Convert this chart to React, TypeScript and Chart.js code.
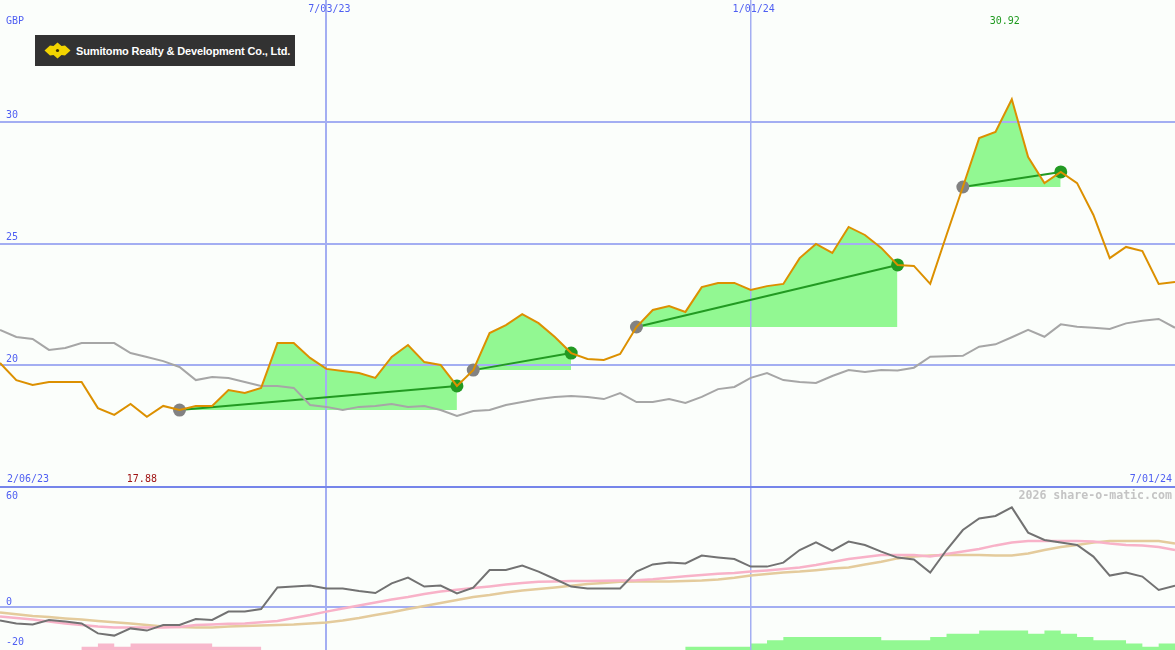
import React, { useEffect, useRef } from 'react';
import { Chart, registerables } from 'chart.js';

Chart.register(...registerables);

// ---------- data (weekly, index 0 = first week shown) ----------
const price = [
  20.09, 19.39, 19.19, 19.31, 19.31, 19.31, 18.24, 17.96, 18.41, 17.88,
  18.33, 18.16, 18.33, 18.33, 18.98, 18.86, 19.07, 20.91, 20.91, 20.30,
  19.85, 19.76, 19.68, 19.48, 20.34, 20.83, 20.13, 20.01, 19.15, 19.80,
  21.32, 21.65, 22.10, 21.73, 21.16, 20.50, 20.26, 20.22, 20.46, 21.57,
  22.27, 22.43, 22.19, 23.21, 23.38, 23.38, 23.09, 23.25, 23.34, 24.40,
  24.98, 24.61, 25.68, 25.35, 24.82, 24.12, 24.08, 23.34, 25.35, 27.32,
  29.33, 29.58, 30.92, 28.55, 27.48, 27.94, 27.48, 26.17, 24.40, 24.86,
  24.69, 23.34, 23.42,
];

const indexLine = [
  21.45, 21.16, 21.08, 20.63, 20.71, 20.91, 20.91, 20.91, 20.50, 20.34,
  20.17, 19.93, 19.39, 19.52, 19.48, 19.31, 19.15, 19.15, 19.07, 18.37,
  18.29, 18.16, 18.29, 18.33, 18.41, 18.29, 18.33, 18.16, 17.92, 18.12,
  18.16, 18.37, 18.49, 18.61, 18.70, 18.74, 18.70, 18.61, 18.86, 18.49,
  18.49, 18.61, 18.45, 18.70, 19.02, 19.11, 19.48, 19.68, 19.39, 19.31,
  19.27, 19.56, 19.80, 19.72, 19.80, 19.78, 19.90, 20.35, 20.37, 20.39,
  20.76, 20.86, 21.15, 21.45, 21.17, 21.68, 21.58, 21.54, 21.49, 21.72,
  21.83, 21.90, 21.54,
];

const oscillator = [
  -6.8, -8.2, -8.7, -6.5, -7.3, -8.2, -13.2, -14.3, -10.7, -11.8,
  -9.0, -9.0, -6.0, -6.5, -2.3, -2.3, -1.0, 9.8, 10.2, 10.7,
  9.3, 9.3, 8.0, 7.0, 11.8, 14.7, 10.2, 10.7, 6.8, 9.7,
  18.5, 18.5, 20.7, 17.7, 14.0, 10.2, 9.3, 9.3, 9.3, 17.7,
  21.3, 22.2, 21.8, 25.7, 24.8, 24.0, 20.2, 20.2, 22.2, 28.5,
  32.3, 28.2, 32.7, 31.0, 27.7, 24.7, 23.8, 17.2, 28.5, 38.5,
  44.3, 45.5, 49.8, 37.2, 33.5, 32.3, 31.0, 25.2, 15.7, 17.2,
  15.2, 8.5, 10.7,
];

const oscAvgFast = [
  -4.8, -5.5, -6.3, -7.3, -8.2, -9.0, -9.8, -10.3, -10.3, -10.3,
  -10.2, -10.0, -9.0, -8.7, -8.4, -8.2, -7.6, -7.0, -5.5, -4.0,
  -2.3, -0.7, 0.8, 2.2, 3.7, 5.0, 6.5, 7.8, 8.6, 9.5,
  10.3, 11.2, 12.0, 12.6, 12.8, 13.0, 13.0, 13.1, 13.3, 13.4,
  13.9, 14.6, 15.4, 16.0, 16.6, 17.0, 17.7, 18.3, 19.0, 19.8,
  21.0, 22.5, 24.0, 25.0, 26.0, 26.0, 26.0, 25.3, 26.5, 27.8,
  29.0, 30.8, 32.3, 33.0, 33.0, 33.0, 33.0, 32.8, 31.7, 31.0,
  30.7, 30.0, 28.5,
];

const oscAvgSlow = [
  -2.8, -3.6, -4.5, -5.0, -5.7, -6.3, -7.0, -7.6, -8.2, -9.0,
  -9.8, -10.0, -10.3, -10.3, -9.8, -9.5, -9.3, -9.0, -8.7, -8.2,
  -7.7, -6.8, -5.5, -4.0, -2.6, -1.0, 0.5, 2.0, 3.5, 5.0,
  6.0, 7.2, 8.2, 9.0, 9.8, 10.6, 11.5, 12.0, 12.6, 12.7,
  12.7, 12.8, 13.0, 13.3, 13.8, 14.6, 15.7, 16.5, 17.2, 17.7,
  18.4, 19.2, 19.8, 21.2, 22.6, 24.3, 25.2, 25.7, 26.0, 26.0,
  26.0, 25.8, 25.7, 26.8, 28.5, 30.0, 31.0, 32.2, 33.0, 33.0,
  33.0, 33.0, 31.8,
];

// signed histogram, one value per week (bar spans week k .. k+1)
const histogram = [
  0, 0, 0, 0, 0, -1, -2, -1, -2, -2,
  -2, -2, -2, -1, -1, -1, 0, 0, 0, 0,
  0, 0, 0, 0, 0, 0, 0, 0, 0, 0,
  0, 0, 0, 0, 0, 0, 0, 0, 0, 0,
  0, 0, 1, 1, 1, 1, 2, 3, 4, 4,
  4, 4, 4, 4, 3, 3, 3, 4, 5, 5,
  6, 6, 6, 5, 6, 5, 4, 3, 3, 2,
  1, 2, 0,
];

const tradeEntries = [11, 29, 39, 59];
const tradeExits = [28, 35, 55, 65];

const dateTickWeeks = [20, 46];
const dateTickLabels = ['7/03/23', '1/01/24'];
const startLabel = '2/06/23';
const endLabel = '7/01/24';
const priceTicks = [20, 25, 30];
const oscTicks = [60, 0, -20];
const currency = 'GBP';
const company = 'Sumitomo Realty & Development Co., Ltd.';
const watermark = '2026 share-o-matic.com';

// ---------- layout / style ----------
const W = 1175;
const H = 650;
const SPLIT = 487;
const PRICE_TOP = 35;
const PRICE_BOTTOM = 15;
const OSC_TOP = 60;
const OSC_BOTTOM = -21.5;

const BLUE_TEXT = '#4f5ff2';
const GRID = '#a3aef2';
const SPLIT_LINE = '#7585ea';
const ORANGE = '#dc9000';
const GREEN = '#229a22';
const FILL_GREEN = '#92f892';
const PINK_BAR = '#f8b8cc';

const pts = (arr: number[], start = 0) => arr.map((y, i) => ({ x: start + i, y }));

const labelPlugin = {
  id: 'textLabels',
  afterDraw(chart: any) {
    const ctx = chart.ctx;
    const xs = chart.scales.x;
    const ys = chart.scales.y;
    const y2 = chart.scales.y2;
    ctx.save();
    ctx.textBaseline = 'middle';
    ctx.font = '10px "DejaVu Sans Mono", monospace';
    ctx.fillStyle = BLUE_TEXT;
    ctx.textAlign = 'left';
    ctx.fillText(currency, 6, 21);
    priceTicks.forEach((v) => ctx.fillText(String(v), 6, ys.getPixelForValue(v) - 6));
    oscTicks.forEach((v) => {
      const py = y2.getPixelForValue(v);
      ctx.fillText(String(v), 6, v === OSC_TOP ? py + 9 : py - 5);
    });
    ctx.fillText(startLabel, 7, SPLIT - 8);
    ctx.textAlign = 'right';
    ctx.fillText(endLabel, W - 3, SPLIT - 8);
    ctx.textAlign = 'center';
    dateTickWeeks.forEach((w, i) => ctx.fillText(dateTickLabels[i], xs.getPixelForValue(w) + 3, 9));

    // max / min labels
    let maxI = 0;
    let minI = 0;
    price.forEach((v, i) => {
      if (v > price[maxI]) maxI = i;
      if (v < price[minI]) minI = i;
    });
    ctx.fillStyle = '#1f9a1f';
    ctx.fillText(price[maxI].toFixed(2), xs.getPixelForValue(maxI) - 7, 21);
    ctx.fillStyle = '#a01414';
    ctx.fillText(price[minI].toFixed(2), xs.getPixelForValue(minI) - 5, SPLIT - 8);

    ctx.textAlign = 'right';
    ctx.fillStyle = '#c4c4c4';
    ctx.font = 'bold 11.6px "DejaVu Sans Mono", monospace';
    ctx.fillText(watermark, W - 3, 496);
    ctx.restore();
  },
};

export default function App() {
  const canvasRef = useRef<HTMLCanvasElement | null>(null);

  useEffect(() => {
    document.body.style.margin = '0';
    const canvas = canvasRef.current;
    if (!canvas) return;

    const priceAxisMin = PRICE_TOP - ((PRICE_TOP - PRICE_BOTTOM) * H) / SPLIT;
    const oscPxPerUnit = (H - SPLIT) / (OSC_TOP - OSC_BOTTOM);
    const oscAxisMax = OSC_BOTTOM + H / oscPxPerUnit;

    const tradeLines = tradeEntries.map((e, k) => ({
      label: 'trade' + k,
      data: [
        { x: e, y: price[e] },
        { x: tradeExits[k], y: price[tradeExits[k]] },
      ],
      yAxisID: 'y',
      borderColor: GREEN,
      borderWidth: 2,
      pointRadius: 6.5,
      pointBorderWidth: 0,
      pointBackgroundColor: ['#828282', GREEN],
      fill: false,
      order: 2,
    }));

    const tradeFills = tradeEntries.map((e, k) => ({
      label: 'gain' + k,
      data: pts(price.slice(e, tradeExits[k] + 1), e),
      yAxisID: 'y',
      borderWidth: 0,
      pointRadius: 0,
      fill: { target: { value: price[e] }, above: FILL_GREEN, below: 'rgba(0,0,0,0)' },
      order: 5,
    }));

    const histUp = histogram.map((v) => Math.max(v, 0));
    histUp.push(histUp[histUp.length - 1]);
    const histDown = histogram.map((v) => Math.max(-v, 0));
    histDown.push(histDown[histDown.length - 1]);

    const chart = new Chart(canvas, {
      type: 'line',
      data: {
        datasets: [
          { label: 'price', data: pts(price), yAxisID: 'y', borderColor: ORANGE, borderWidth: 2, pointRadius: 0, order: 0 },
          { label: 'index', data: pts(indexLine), yAxisID: 'y', borderColor: '#a6a6a6', borderWidth: 2, pointRadius: 0, order: 1 },
          ...tradeLines,
          ...tradeFills,
          { label: 'osc', data: pts(oscillator), yAxisID: 'y2', borderColor: '#727272', borderWidth: 2, pointRadius: 0, order: 0 },
          { label: 'fast', data: pts(oscAvgFast), yAxisID: 'y2', borderColor: '#f8b2c8', borderWidth: 2.5, pointRadius: 0, order: 1 },
          { label: 'slow', data: pts(oscAvgSlow), yAxisID: 'y2', borderColor: '#e4cb9c', borderWidth: 2.5, pointRadius: 0, order: 2 },
          { label: 'histUp', data: pts(histUp), yAxisID: 'yh', stepped: 'before', borderWidth: 0, pointRadius: 0, fill: 'start', backgroundColor: FILL_GREEN, order: 6 },
          { label: 'histDown', data: pts(histDown), yAxisID: 'yh', stepped: 'before', borderWidth: 0, pointRadius: 0, fill: 'start', backgroundColor: PINK_BAR, order: 6 },
        ] as any,
      },
      options: {
        animation: false,
        responsive: false,
        maintainAspectRatio: false,
        layout: { padding: 0, autoPadding: false } as any,
        elements: { line: { tension: 0 } },
        plugins: {
          legend: { display: false },
          tooltip: { enabled: false },
          filler: { drawTime: 'beforeDraw' } as any,
        },
        scales: {
          x: {
            type: 'linear',
            min: 0,
            max: price.length - 1,
            position: 'bottom',
            ticks: { display: false },
            border: { display: false },
            grid: {
              drawTicks: false,
              color: GRID,
              lineWidth: (c: any) => (c.tick && c.tick.value === dateTickWeeks[0] ? 2 : 1.5),
            },
            afterBuildTicks: (s: any) => {
              s.ticks = dateTickWeeks.map((v) => ({ value: v }));
            },
            afterFit: (s: any) => {
              s.height = 0;
            },
          },
          y: {
            type: 'linear',
            min: priceAxisMin,
            max: PRICE_TOP,
            position: 'left',
            ticks: { display: false },
            border: { display: false },
            grid: { drawTicks: false, color: GRID, lineWidth: 2 },
            afterBuildTicks: (s: any) => {
              s.ticks = priceTicks.map((v) => ({ value: v }));
            },
            afterFit: (s: any) => {
              s.width = 0;
            },
          },
          y2: {
            type: 'linear',
            min: OSC_BOTTOM,
            max: oscAxisMax,
            position: 'left',
            ticks: { display: false },
            border: { display: false },
            grid: {
              drawTicks: false,
              color: (c: any) => (c.tick && c.tick.value === OSC_TOP ? SPLIT_LINE : GRID),
              lineWidth: 2,
            },
            afterBuildTicks: (s: any) => {
              s.ticks = [OSC_TOP, 0].map((v) => ({ value: v }));
            },
            afterFit: (s: any) => {
              s.width = 0;
            },
          },
          yh: {
            type: 'linear',
            min: 0,
            max: 200,
            position: 'right',
            display: false,
          },
        },
      },
      plugins: [labelPlugin],
    });

    return () => chart.destroy();
  }, []);

  return (
    <div style={{ position: 'relative', width: W, height: H, background: '#fbfefb', overflow: 'hidden' }}>
      <canvas ref={canvasRef} width={W} height={H} style={{ display: 'block' }} />
      <div
        style={{
          position: 'absolute',
          left: 35,
          top: 35,
          width: 260,
          height: 31,
          background: '#323232',
          display: 'flex',
          alignItems: 'center',
        }}
      >
        <svg width="27" height="17" viewBox="0 0 27 17" style={{ marginLeft: 9, flex: 'none' }}>
          <path
            d="M0.5 8.5 L6 3.5 L9.5 4 L13.5 0.5 L17.5 4 L21 3.5 L26.5 8.5 L21 13.5 L17.5 13 L13.5 16.5 L9.5 13 L6 13.5 Z"
            fill="#f2d400"
          />
          <circle cx="13.5" cy="8.5" r="1.6" fill="#3a3000" />
        </svg>
        <span
          style={{
            color: '#ffffff',
            fontFamily: '"Liberation Sans", Arial, sans-serif',
            fontWeight: 'bold',
            fontSize: '11px',
            marginLeft: 5,
            whiteSpace: 'nowrap',
            letterSpacing: '-0.15px',
          }}
        >
          {company}
        </span>
      </div>
    </div>
  );
}
